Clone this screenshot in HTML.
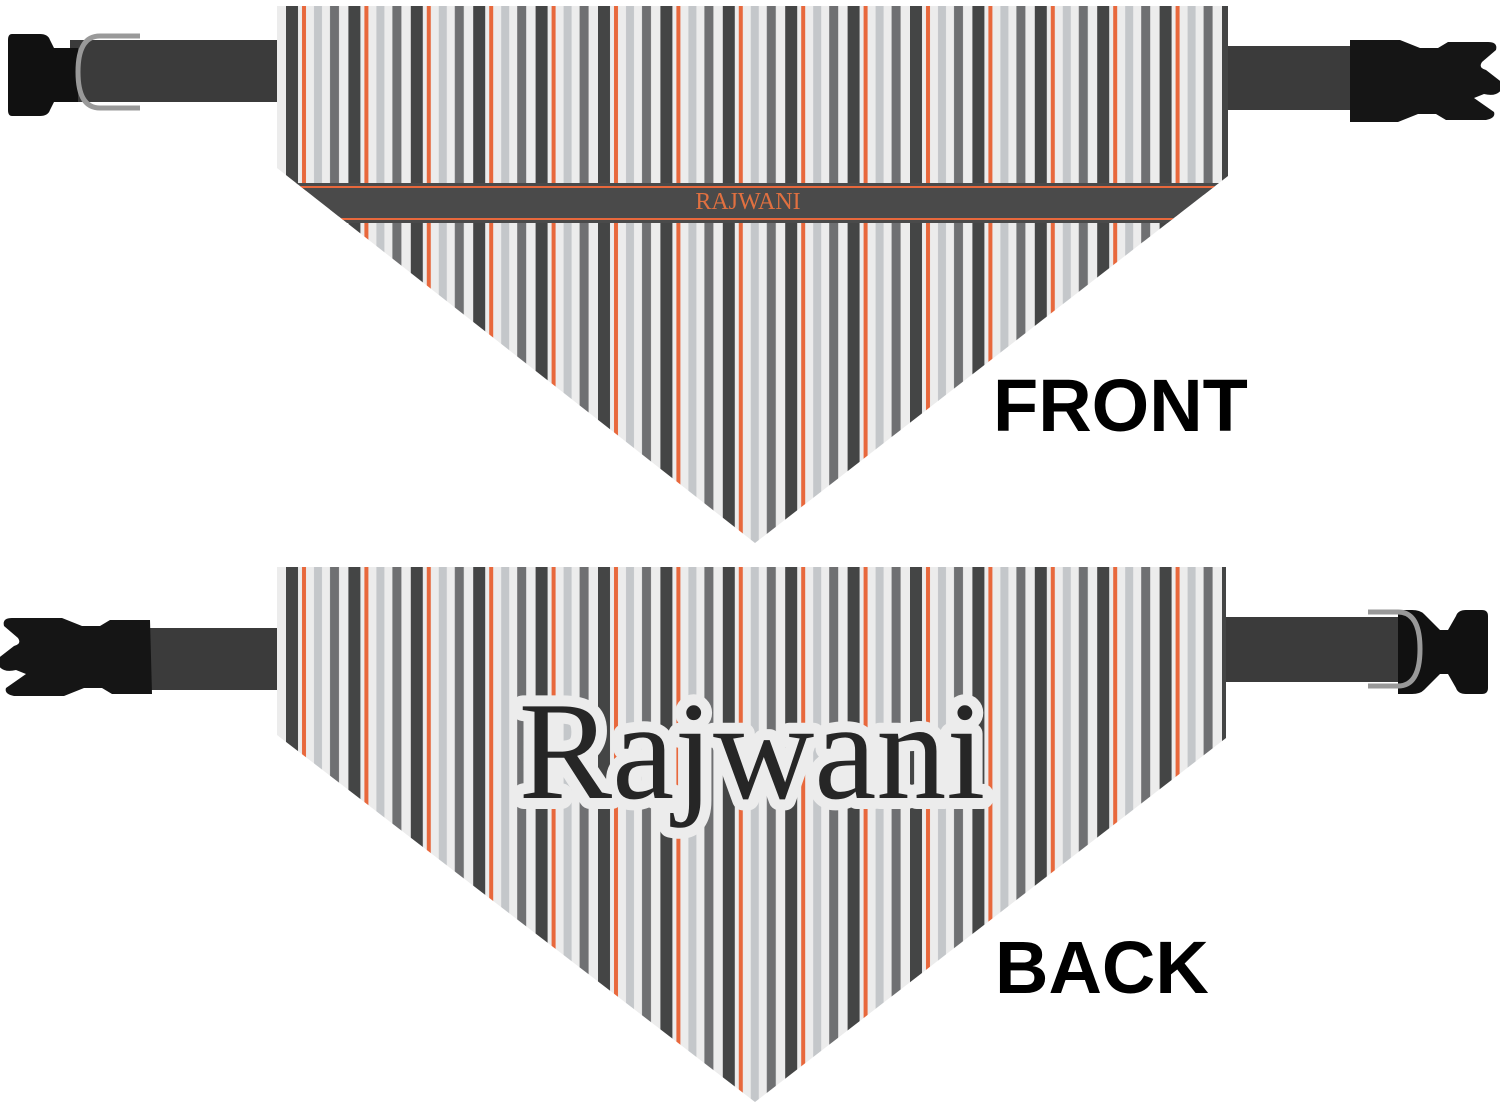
<!DOCTYPE html>
<html><head><meta charset="utf-8"><style>
html,body{margin:0;padding:0;background:#fff;width:1500px;height:1105px;overflow:hidden}
svg{display:block}
</style></head><body>
<svg width="1500" height="1105" viewBox="0 0 1500 1105" xmlns="http://www.w3.org/2000/svg">
<defs>
<pattern id="st" patternUnits="userSpaceOnUse" x="286" y="0" width="62.4" height="20">
<rect width="62.4" height="20" fill="#ececec"/>
<rect x="0" width="12" height="20" fill="#444545"/>
<rect x="16" width="4" height="20" fill="#e8683c"/>
<rect x="28" width="8" height="20" fill="#c4c7ca"/>
<rect x="44" width="9" height="20" fill="#6f7072"/>
</pattern>
<clipPath id="fc"><path d="M277,6 L1228,6 L1228,176 L755,543 L277,168 Z"/></clipPath>
</defs>

<!-- FRONT straps -->
<rect x="70" y="40" width="210" height="62" fill="#3b3b3b"/>
<path d="M12,34 h28 q8,0 10,6 l4,8 h24 v54 h-24 l-4,8 q-2,6 -10,6 h-28 q-4,0 -4,-6 v-70 q0,-6 4,-6z" fill="#111"/>
<path d="M140,36 h-40 q-22,0 -22,36 q0,36 22,36 h40" fill="none" stroke="#999" stroke-width="5"/>
<rect x="1226" y="46" width="130" height="64" fill="#3b3b3b"/>
<path d="M1350,40 h50 l20,8 h18 l10,-6 h40 q10,0 8,8 l-14,12 q-4,6 4,8 l18,14 q-4,14 -20,10 l-10,4 l20,14 q2,6 -8,8 h-40 l-10,-6 h-18 l-20,8 h-48z" fill="#151515"/>

<!-- FRONT bandana -->
<path d="M277,6 L1228,6 L1228,176 L755,543 L277,168 Z" fill="url(#st)"/>
<g clip-path="url(#fc)">
<rect x="270" y="183" width="970" height="40" fill="#4a4a4a"/>
<rect x="270" y="186" width="970" height="2" fill="#e8683c"/>
<rect x="270" y="218" width="970" height="2" fill="#e8683c"/>
</g>
<text x="748" y="209" font-family="Liberation Serif, serif" font-size="24" fill="#e07040" text-anchor="middle">RAJWANI</text>
<text x="993" y="431" font-family="Liberation Sans, sans-serif" font-weight="bold" font-size="74" fill="#000">FRONT</text>

<!-- BACK straps -->
<rect x="140" y="628" width="140" height="62" fill="#3b3b3b"/>
<path d="M150,620 h-40 l-10,6 h-18 l-20,-8 h-50 q-10,0 -8,8 l14,12 q4,6 -4,8 l-18,14 q4,14 20,10 l10,4 l-20,14 q-2,6 8,8 h50 l20,-8 h18 l10,6 h40z" fill="#151515"/>
<rect x="1224" y="617" width="190" height="65" fill="#3b3b3b"/>
<path d="M1398,610 h14 q8,0 12,4 l16,16 h8 l8,-14 q2,-6 10,-6 h16 q6,0 6,6 v72 q0,6 -6,6 h-16 q-8,0 -10,-6 l-8,-14 h-8 l-16,16 q-4,4 -12,4 h-14z" fill="#111"/>
<path d="M1368,612 h30 q22,0 22,37 q0,37 -22,37 h-30" fill="none" stroke="#999" stroke-width="5"/>

<!-- BACK bandana -->
<path d="M277,567 L1226,567 L1226,738 L755,1102 L277,735 Z" fill="url(#st)"/>
<text x="752" y="798" font-family="Liberation Serif, serif" font-size="140" fill="#ececec" stroke="#ececec" stroke-width="22" stroke-linejoin="round" text-anchor="middle">Rajwani</text>
<text x="752" y="798" font-family="Liberation Serif, serif" font-size="140" fill="#262626" text-anchor="middle">Rajwani</text>
<text x="995" y="993" font-family="Liberation Sans, sans-serif" font-weight="bold" font-size="74" fill="#000">BACK</text>
</svg>
</body></html>
